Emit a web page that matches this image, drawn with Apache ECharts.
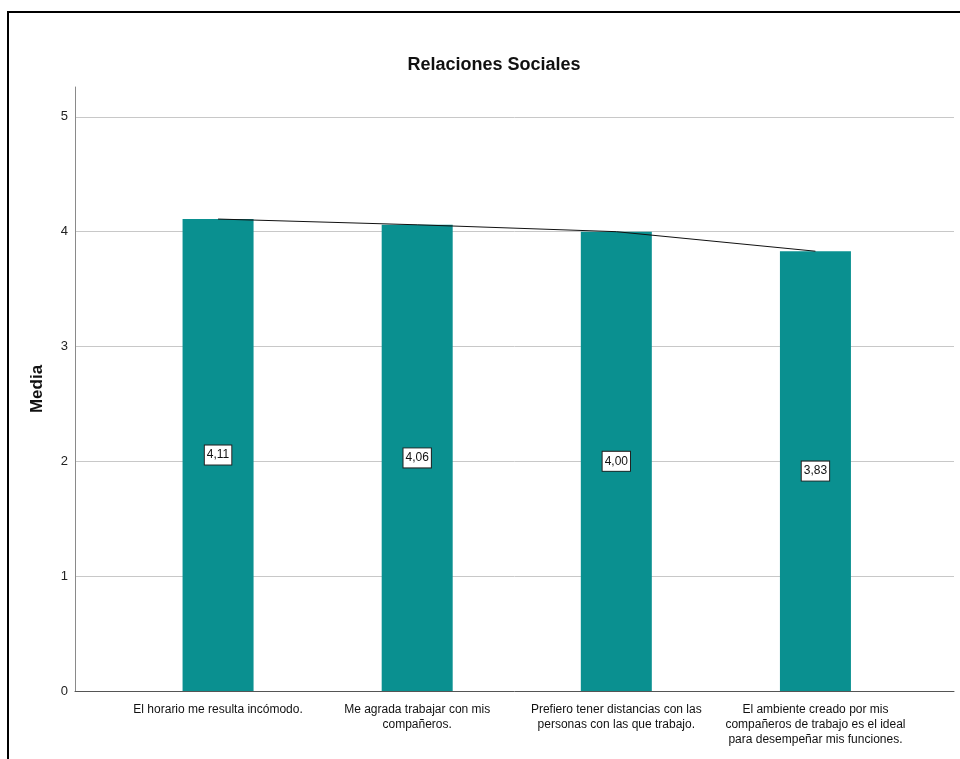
<!DOCTYPE html>
<html>
<head>
<meta charset="utf-8">
<title>Relaciones Sociales</title>
<script src="https://cdn.jsdelivr.net/npm/echarts@6/dist/echarts.min.js"></script>
<style>
  html, body { margin: 0; padding: 0; background: #fff; }
  #chart { width: 960px; height: 759px; }
</style>
</head>
<body>
<div id="chart"></div>
<script>
// Survey items (category labels, wrapped as printed under the axis)
const categories = [
  'El horario me resulta incómodo.',
  'Me agrada trabajar con mis\ncompañeros.',
  'Prefiero tener distancias con las\npersonas con las que trabajo.',
  'El ambiente creado por mis\ncompañeros de trabajo es el ideal\npara desempeñar mis funciones.'
];
// Mean score per item
const means = [4.11, 4.06, 4.00, 3.83];
// Value axis ticks
const yTicks = [0, 1, 2, 3, 4, 5];

const FONT = '"Liberation Sans", Arial, sans-serif';
const TEAL = '#0a9090';
const Y_MAX = 5.26;

const fmt = v => v.toFixed(2).replace('.', ',');

const chart = echarts.init(document.getElementById('chart'), null, { renderer: 'canvas' });

chart.setOption({
  backgroundColor: '#fff',
  animation: false,
  title: {
    text: 'Relaciones Sociales',
    left: 489,
    top: 51,
    textAlign: 'center',
    textStyle: { fontFamily: FONT, fontSize: 18, fontWeight: 'bold', color: '#111' }
  },
  graphic: [{
    type: 'rect',
    shape: { x: 8, y: 12, width: 1000, height: 800 },
    style: { fill: 'none', stroke: '#000', lineWidth: 2 },
    silent: true,
    z: 100
  }],
  grid: [
    { left: 75, right: 6, top: 87, bottom: 68 },
    { left: 118.5, right: 45, top: 87, bottom: 68 }
  ],
  xAxis: [
    {
      gridIndex: 0, type: 'category', data: ['', '', '', ''],
      axisLine: { show: true, lineStyle: { color: '#555', width: 1 } },
      axisTick: { show: false }, axisLabel: { show: false }, splitLine: { show: false }
    },
    {
      gridIndex: 1, type: 'category', data: categories,
      axisLine: { show: false }, axisTick: { show: false },
      axisLabel: {
        interval: 0, margin: 11, fontFamily: FONT, fontSize: 12,
        lineHeight: 15, color: '#111', align: 'center'
      }
    }
  ],
  yAxis: [
    {
      gridIndex: 0, type: 'value', min: 0, max: Y_MAX, interval: 1,
      name: 'Media', nameLocation: 'middle', nameGap: 29, nameRotate: 90,
      nameTextStyle: { fontFamily: FONT, fontSize: 17, fontWeight: 'bold', color: '#111' },
      axisLine: { show: true, lineStyle: { color: '#8a8a8a', width: 1 } },
      axisTick: { show: false },
      axisLabel: {
        margin: 7, fontFamily: FONT, fontSize: 13, color: '#222',
        formatter: v => (yTicks.includes(v) ? String(v) : ''),
        showMaxLabel: false
      },
      splitLine: { show: true, showMinLine: false, showMaxLine: false, lineStyle: { color: '#c8c8c8', width: 1 } }
    },
    {
      gridIndex: 1, type: 'value', min: 0, max: Y_MAX, interval: 1, show: false,
      splitLine: { show: false }
    }
  ],
  series: [
    {
      type: 'bar', xAxisIndex: 1, yAxisIndex: 1,
      data: means, barWidth: 71,
      itemStyle: { color: TEAL },
      label: {
        show: true, position: 'inside',
        formatter: p => fmt(p.value),
        fontFamily: FONT, fontSize: 12, color: '#111',
        backgroundColor: '#fff', borderColor: '#222', borderWidth: 1,
        padding: [4, 2, 3, 2]
      },
      z: 2
    },
    {
      type: 'line', xAxisIndex: 1, yAxisIndex: 1,
      data: means, symbol: 'none',
      lineStyle: { color: '#111', width: 1 },
      z: 3
    }
  ]
});
</script>
</body>
</html>
